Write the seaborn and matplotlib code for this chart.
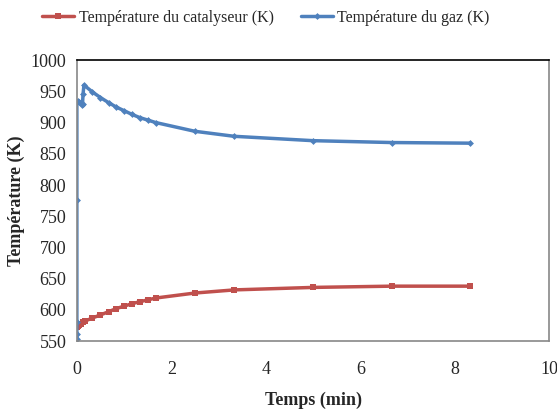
import matplotlib
matplotlib.use("Agg")
import matplotlib.pyplot as plt
import seaborn as sns
import pandas as pd

# catalyst temperature (K) vs time (min)
t_cat = [0.0, 0.02, 0.05, 0.08, 0.12, 0.17, 0.33, 0.5, 0.67, 0.83, 1.0, 1.17, 1.33,
         1.5, 1.67, 2.5, 3.33, 5.0, 6.67, 8.33]
T_cat = [572, 574, 576, 578, 580, 582, 587, 592, 597, 602, 606, 610, 613,
         616, 619, 627, 632, 636, 638, 638]

# gas temperature (K) vs time (min)
t_gas = [0.0, 0.0, 0.0, 0.0, 0.0, 0.02, 0.05, 0.1, 0.12, 0.13, 0.15, 0.33, 0.5,
         0.67, 0.83, 1.0, 1.17, 1.33, 1.5, 1.67, 2.5, 3.33, 5.0, 6.67, 8.33]
T_gas = [553, 562, 580, 776, 933, 935, 933, 928, 930, 945, 960, 949, 940,
         932, 925, 919, 913, 908, 904, 900, 886, 878, 871, 868, 867]

cat_label = "Température du catalyseur (K)"
gas_label = "Température du gaz (K)"

sns.set_style("white")
plt.rcParams["font.family"] = ["Liberation Serif", "DejaVu Serif"]

df_cat = pd.DataFrame({"t": t_cat, "T": T_cat})
df_gas = pd.DataFrame({"t": t_gas, "T": T_gas})

fig = plt.figure(figsize=(5.57, 4.09), dpi=100)
ax = fig.add_axes([0.138, 0.166, 0.848, 0.687])

sns.lineplot(data=df_cat, x="t", y="T", ax=ax, color="#c0504d", linewidth=2.5,
             marker="s", markersize=5, markeredgewidth=0, sort=False,
             estimator=None, label=cat_label)
sns.lineplot(data=df_gas, x="t", y="T", ax=ax, color="#4f81bd", linewidth=2.5,
             marker="D", markersize=3.5, markeredgewidth=0, sort=False,
             estimator=None, label=gas_label)

ax.set_xlim(0, 10)
ax.set_ylim(550, 1000)
ax.set_xticks([0, 2, 4, 6, 8, 10])
ax.set_yticks(range(550, 1001, 50))
ax.tick_params(axis="both", labelsize=13, direction="out", length=4,
               color="#888888", width=1)
ax.tick_params(axis="x", pad=10)
ax.set_xlabel("Temps (min)", fontsize=13, fontweight="bold", labelpad=10)
ax.set_ylabel("Température (K)", fontsize=13, fontweight="bold", labelpad=4)

for side in ["left", "bottom", "right"]:
    ax.spines[side].set_color("#888888")
    ax.spines[side].set_linewidth(1.2)
ax.spines["top"].set_color("black")
ax.spines["top"].set_linewidth(1.2)

ax.legend(loc="lower center", bbox_to_anchor=(0.40, 1.1), ncol=2, frameon=False,
          fontsize=11.5, handlelength=2.0, columnspacing=1.7, handletextpad=0.3,
          borderaxespad=0)

fig.savefig("out.png", dpi=100)
